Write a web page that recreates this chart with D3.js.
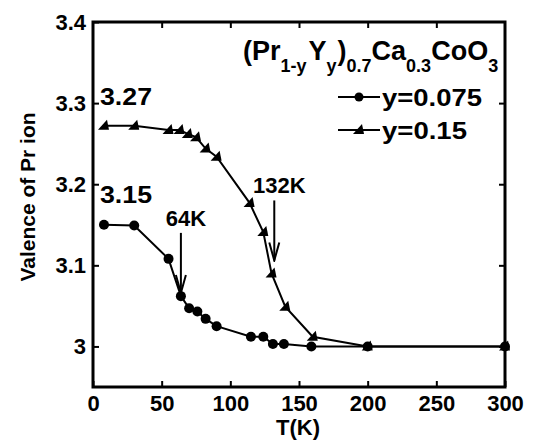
<!DOCTYPE html>
<html>
<head>
<meta charset="utf-8">
<script src="https://cdn.jsdelivr.net/npm/d3@7"></script>
<style>
  body { margin: 0; background: #fff; }
  text { font-family: "Liberation Sans", Arial, Helvetica, sans-serif; font-weight: bold; fill: #000; }
</style>
</head>
<body>
<svg id="chart" width="538" height="441"></svg>
<script>

// data
var tempA = [8, 30, 55, 64, 70, 76, 82, 90, 115, 124, 131, 139, 159, 200, 300];
var valA  = [3.150, 3.149, 3.108, 3.062, 3.047, 3.043, 3.034, 3.025, 3.012, 3.012, 3.003, 3.003, 3.000, 3.000, 3.000];

var tempB = [8, 30, 55, 63, 69, 75, 82, 90, 114, 124, 130, 140, 160, 200, 300];
var valB  = [3.272, 3.272, 3.267, 3.267, 3.262, 3.258, 3.244, 3.234, 3.177, 3.141, 3.090, 3.049, 3.012, 3.000, 3.000];

var seriesNames = ["y=0.075", "y=0.15"];
var xTicks = [0, 50, 100, 150, 200, 250, 300];
var yTicks = [3.0, 3.1, 3.2, 3.3, 3.4];
var yTickLabels = ["3", "3.1", "3.2", "3.3", "3.4"];

// transition arrows: temperature, label, arrow from/to valence
var arrowTemps  = [64, 132];
var arrowLabels = ["64K", "132K"];
var arrowFrom   = [3.140, 3.180];
var arrowTo     = [3.066, 3.106];

// plateau values written on the chart
var plateauVals = [3.27, 3.15];

var svg = d3.select("#chart");

// plot box (don't call these top/left: window.top is taken)
var x0 = 93, x1 = 505, y0 = 22, y1 = 387;

var x = d3.scaleLinear().domain([0, 300]).range([x0, x1]);
var y = d3.scaleLinear().domain([2.95, 3.4]).range([y1, y0]);

// axes, ticks pointing inwards
function styleAxis(g) {
  g.select(".domain").remove();
  g.selectAll(".tick line").attr("stroke", "#000").attr("stroke-width", 2);
  g.selectAll(".tick text").style("font-size", "22px").attr("fill", "#000");
}

svg.append("g")
  .attr("transform", "translate(0," + y1 + ")")
  .call(d3.axisBottom(x).tickValues(xTicks).tickSizeInner(-6).tickSizeOuter(0).tickPadding(8))
  .call(styleAxis);

svg.append("g")
  .attr("transform", "translate(0," + y0 + ")")
  .call(d3.axisTop(x).tickValues(xTicks.slice(1, -1)).tickSizeInner(-6).tickSizeOuter(0).tickFormat(""))
  .call(styleAxis);

svg.append("g")
  .attr("transform", "translate(" + x0 + ",0)")
  .call(d3.axisLeft(y).tickValues(yTicks).tickSizeInner(-6).tickSizeOuter(0).tickPadding(7)
    .tickFormat(function(d, i) { return yTickLabels[i]; }))
  .call(styleAxis);

svg.append("g")
  .attr("transform", "translate(" + x1 + ",0)")
  .call(d3.axisRight(y).tickValues(yTicks.slice(0, -1)).tickSizeInner(-6).tickSizeOuter(0).tickFormat(""))
  .call(styleAxis);

// frame
svg.append("rect")
  .attr("x", x0).attr("y", y0)
  .attr("width", x1 - x0).attr("height", y1 - y0)
  .attr("fill", "none").attr("stroke", "#000").attr("stroke-width", 3);

// axis titles
svg.append("text")
  .attr("x", (x0 + x1) / 2 - 1).attr("y", 435)
  .attr("text-anchor", "middle")
  .style("font-size", "22px")
  .text("T(K)");

svg.append("text")
  .attr("transform", "translate(35,197) rotate(-90)")
  .attr("text-anchor", "middle")
  .style("font-size", "21px")
  .text("Valence of Pr ion");

// series
var line = d3.line()
  .x(function(d) { return x(d[0]); })
  .y(function(d) { return y(d[1]); });

var dataA = tempA.map(function(t, i) { return [t, valA[i]]; });
var dataB = tempB.map(function(t, i) { return [t, valB[i]]; });

var triangle = "M-6,4L5,4L3,-6Z";

svg.append("path").datum(dataB)
  .attr("d", line).attr("fill", "none").attr("stroke", "#000").attr("stroke-width", 2);
svg.append("path").datum(dataA)
  .attr("d", line).attr("fill", "none").attr("stroke", "#000").attr("stroke-width", 2);

svg.selectAll(".ptB").data(dataB).enter().append("path")
  .attr("class", "ptB")
  .attr("transform", function(d) { return "translate(" + x(d[0]) + "," + y(d[1]) + ")"; })
  .attr("d", triangle).attr("fill", "#000");

svg.selectAll(".ptA").data(dataA).enter().append("circle")
  .attr("class", "ptA")
  .attr("cx", function(d) { return x(d[0]); })
  .attr("cy", function(d) { return y(d[1]); })
  .attr("r", 5).attr("fill", "#000");

// plateau labels
svg.selectAll(".plateau").data(plateauVals).enter().append("text")
  .attr("class", "plateau")
  .attr("x", 100)
  .attr("y", function(d) { return y(d) - 22; })
  .style("font-size", "24px")
  .attr("textLength", 52).attr("lengthAdjust", "spacingAndGlyphs")
  .text(function(d) { return d.toFixed(2); });

// arrowhead marker
svg.append("defs").append("marker")
    .attr("id", "arrowhead")
    .attr("viewBox", "-20 -10 22 20")
    .attr("refX", 0).attr("refY", 0)
    .attr("markerWidth", 22).attr("markerHeight", 20)
    .attr("markerUnits", "userSpaceOnUse")
    .attr("orient", "auto")
  .append("polyline")
    .attr("points", "-18,-5 0,0 -18,5")
    .attr("fill", "none").attr("stroke", "#000").attr("stroke-width", 2)
    .attr("stroke-linejoin", "miter");

arrowTemps.forEach(function(t, i) {
  svg.append("line")
    .attr("x1", x(t)).attr("x2", x(t))
    .attr("y1", y(arrowFrom[i])).attr("y2", y(arrowTo[i]))
    .attr("stroke", "#000").attr("stroke-width", 2)
    .attr("marker-end", "url(#arrowhead)");
  svg.append("text")
    .attr("x", x(t) + 5).attr("y", y(arrowFrom[i]) - 7)
    .attr("text-anchor", "middle")
    .style("font-size", "22px")
    .text(arrowLabels[i]);
});

// compound name: text, subscript?, dx
var titleParts = [["(Pr", 0, 0], ["1-y", 1, 0], ["Y", 0, 2], ["y", 1, 0], [")", 0, 1],
                  ["0.7", 1, 0], ["Ca", 0, 0], ["0.3", 1, 0], ["CoO", 0, 0], ["3", 1, 0]];
var title = svg.append("text").attr("x", 243).attr("y", 60);
var prevSub = 0;
titleParts.forEach(function(p) {
  title.append("tspan")
    .attr("dy", (p[1] - prevSub) * 12)
    .attr("dx", p[2])
    .style("font-size", p[1] ? "18px" : "27px")
    .text(p[0]);
  prevSub = p[1];
});

// legend
var legendY = [97, 130];
var legendW = [100, 85];
seriesNames.forEach(function(name, i) {
  var g = svg.append("g").attr("transform", "translate(0," + legendY[i] + ")");
  g.append("line").attr("x1", 338).attr("x2", 380).attr("stroke", "#000").attr("stroke-width", 2);
  if (i === 0) {
    g.append("circle").attr("cx", 359).attr("r", 4.5).attr("fill", "#000");
  } else {
    g.append("path").attr("transform", "translate(359,0)").attr("d", triangle).attr("fill", "#000");
  }
  g.append("text")
    .attr("x", 382).attr("y", 9)
    .style("font-size", "23px")
    .attr("textLength", legendW[i]).attr("lengthAdjust", "spacingAndGlyphs")
    .text(name);
});

</script>
</body>
</html>
